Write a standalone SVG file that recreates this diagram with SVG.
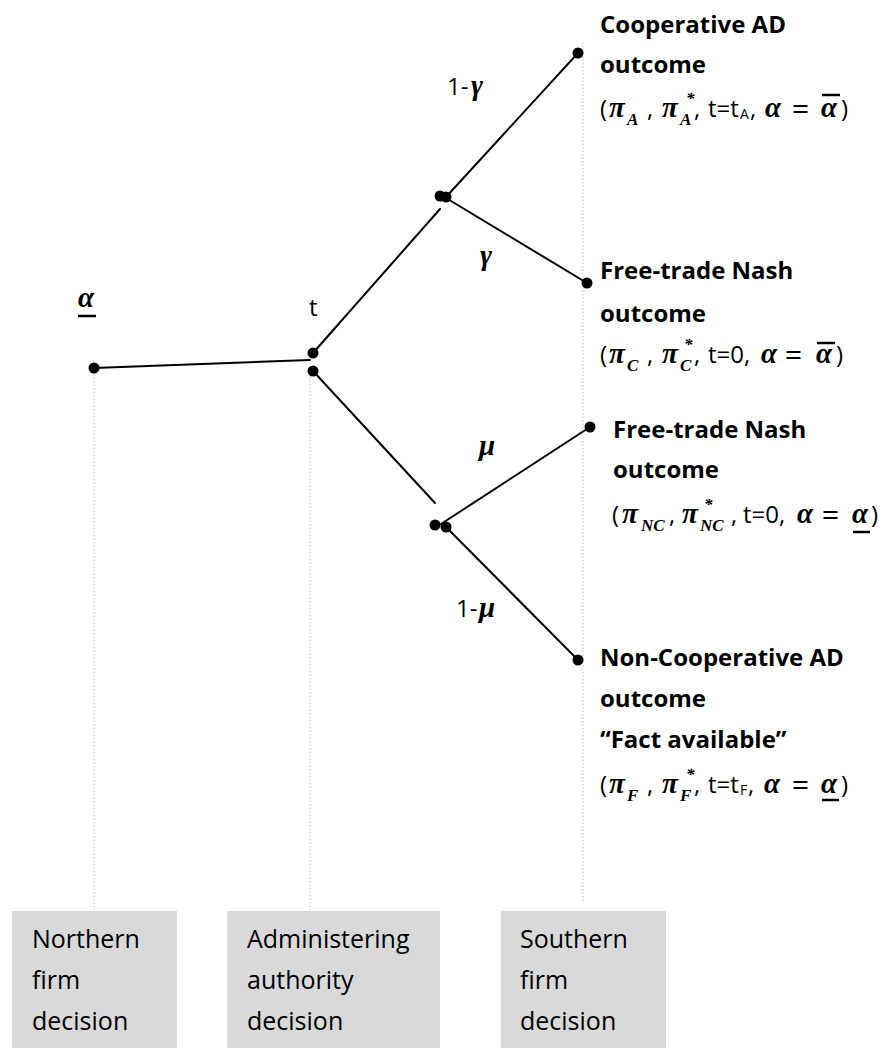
<svg xmlns="http://www.w3.org/2000/svg" width="882" height="1048" viewBox="0 0 882 1048">
<style>
.bg{fill:#ffffff}
.edge{stroke:#000;stroke-width:2;fill:none;stroke-linecap:round}
.guide{stroke:#c8c8c8;stroke-width:1.2;stroke-dasharray:1.5 2;fill:none}
.dot{fill:#000}
.title{font-family:"Open Sans","Liberation Sans",sans-serif;font-weight:bold;font-size:24px;fill:#000}
.sans{font-family:"Open Sans","Liberation Sans",sans-serif;font-size:24px;fill:#000}
.lbl{font-family:"Open Sans","Liberation Sans",sans-serif;font-size:24px;fill:#000}
.gr{font-family:"Liberation Serif","DejaVu Serif",serif;font-style:italic;font-weight:bold;font-size:29px;fill:#000}
.sub{font-family:"Liberation Serif","DejaVu Serif",serif;font-style:italic;font-weight:bold;font-size:17px;fill:#000}
.ssub{font-family:"Open Sans","Liberation Sans",sans-serif;font-size:14px;fill:#000}
.eq{font-family:"Liberation Serif","DejaVu Serif",serif;font-weight:bold;font-size:30px;fill:#000}
.bar{stroke:#000;stroke-width:2.5}
.box{fill:#d9d9d9}
.btxt{font-family:"Open Sans","Liberation Sans",sans-serif;font-size:25px;fill:#000}
</style>
<rect class="bg" x="0" y="0" width="882" height="1048"/>

<g id="guides">
<line class="guide" x1="94" y1="374" x2="94" y2="910"/>
<line class="guide" x1="310" y1="377" x2="310" y2="910"/>
<line class="guide" x1="583" y1="42" x2="583" y2="903"/>
</g>

<g id="connectors">
<line class="edge" x1="94" y1="368" x2="310" y2="360"/>
<line class="edge" x1="313" y1="353" x2="440" y2="209"/>
<line class="edge" x1="446" y1="197" x2="578" y2="53"/>
<line class="edge" x1="446" y1="198" x2="587" y2="283"/>
<line class="edge" x1="313" y1="371" x2="435" y2="503"/>
<line class="edge" x1="441" y1="524" x2="590" y2="427"/>
<line class="edge" x1="446" y1="527" x2="578" y2="660"/>
</g>

<g id="edge-labels">
<text class="lbl" x="447" y="95">1-</text>
<text class="gr" x="471" y="95">γ</text>
<text class="gr" x="480" y="265">γ</text>
<text class="gr" x="479" y="455">μ</text>
<text class="lbl" x="456" y="617">1-</text>
<text class="gr" x="479" y="617">μ</text>
</g>

<g id="node-northern">
<circle class="dot" cx="94" cy="368" r="5.5"/>
<text class="gr" x="78" y="307" font-size="27">α</text>
<line class="bar" x1="78" y1="316" x2="96" y2="316"/>
</g>

<g id="node-authority">
<circle class="dot" cx="313" cy="353" r="5.5"/>
<circle class="dot" cx="313" cy="371" r="5.5"/>
<text class="lbl" x="309" y="316">t</text>
</g>

<g id="node-chance-upper">
<circle class="dot" cx="440" cy="196" r="5.5"/>
<circle class="dot" cx="446" cy="197" r="5.5"/>
</g>

<g id="node-chance-lower">
<circle class="dot" cx="435" cy="525" r="5.5"/>
<circle class="dot" cx="446" cy="527" r="5.5"/>
</g>

<g id="outcome-cooperative">
<circle class="dot" cx="578" cy="53" r="5.5"/>
<text class="title" x="600" y="33">Cooperative AD</text>
<text class="title" x="600" y="73">outcome</text>
<text class="sans" x="600" y="117">(</text>
<text class="gr" x="609" y="117">π</text>
<text class="sub" x="627" y="125">A</text>
<text class="sans" x="647" y="117">,</text>
<text class="gr" x="662" y="117">π</text>
<text class="sub" x="686" y="104">*</text>
<text class="sub" x="680" y="125">A</text>
<text class="sans" x="694" y="117">,</text>
<text class="sans" x="708" y="117">t=t</text>
<text class="ssub" x="740" y="119">A</text>
<text class="sans" x="750" y="117">,</text>
<text class="gr" x="765" y="117">α</text>
<text class="eq" x="792" y="119">=</text>
<text class="gr" x="821" y="117">α</text>
<text class="sans" x="841" y="117">)</text>
<line class="bar" x1="822" y1="95" x2="840" y2="95"/>
</g>

<g id="outcome-free-trade-c">
<circle class="dot" cx="587" cy="283" r="5.5"/>
<text class="title" x="600" y="279">Free-trade Nash</text>
<text class="title" x="600" y="322">outcome</text>
<text class="sans" x="600" y="363">(</text>
<text class="gr" x="609" y="363">π</text>
<text class="sub" x="627" y="371">C</text>
<text class="sans" x="647" y="363">,</text>
<text class="gr" x="662" y="363">π</text>
<text class="sub" x="684" y="350">*</text>
<text class="sub" x="680" y="371">C</text>
<text class="sans" x="694" y="363">,</text>
<text class="sans" x="708" y="363">t=0,</text>
<text class="gr" x="761" y="363">α</text>
<text class="eq" x="785" y="365">=</text>
<text class="gr" x="816" y="363">α</text>
<text class="sans" x="836" y="363">)</text>
<line class="bar" x1="817" y1="343" x2="835" y2="343"/>
</g>

<g id="outcome-free-trade-nc">
<circle class="dot" cx="590" cy="427" r="5.5"/>
<text class="title" x="613" y="438">Free-trade Nash</text>
<text class="title" x="613" y="478">outcome</text>
<text class="sans" x="612" y="523">(</text>
<text class="gr" x="622" y="523">π</text>
<text class="sub" x="641" y="531">NC</text>
<text class="sans" x="669" y="523">,</text>
<text class="gr" x="682" y="523">π</text>
<text class="sub" x="704" y="510">*</text>
<text class="sub" x="700" y="531">NC</text>
<text class="sans" x="731" y="523">,</text>
<text class="sans" x="743" y="523">t=0,</text>
<text class="gr" x="797" y="523">α</text>
<text class="eq" x="822" y="525">=</text>
<text class="gr" x="852" y="523">α</text>
<text class="sans" x="871" y="523">)</text>
<line class="bar" x1="853" y1="532" x2="870" y2="532"/>
</g>

<g id="outcome-non-cooperative">
<circle class="dot" cx="578" cy="660" r="5.5"/>
<text class="title" x="600" y="666">Non-Cooperative AD</text>
<text class="title" x="600" y="707">outcome</text>
<text class="title" x="600" y="748">“Fact available”</text>
<text class="sans" x="600" y="793">(</text>
<text class="gr" x="609" y="793">π</text>
<text class="sub" x="627" y="801">F</text>
<text class="sans" x="647" y="793">,</text>
<text class="gr" x="662" y="793">π</text>
<text class="sub" x="686" y="780">*</text>
<text class="sub" x="680" y="801">F</text>
<text class="sans" x="694" y="793">,</text>
<text class="sans" x="708" y="793">t=t</text>
<text class="ssub" x="740" y="795">F</text>
<text class="sans" x="748" y="793">,</text>
<text class="gr" x="764" y="793">α</text>
<text class="eq" x="792" y="795">=</text>
<text class="gr" x="821" y="793">α</text>
<text class="sans" x="841" y="793">)</text>
<line class="bar" x1="822" y1="800" x2="839" y2="800"/>
</g>

<g id="box-northern">
<rect class="box" x="12" y="911" width="165" height="137"/>
<text class="btxt" x="32" y="948">Northern</text>
<text class="btxt" x="32" y="989">firm</text>
<text class="btxt" x="32" y="1030">decision</text>
</g>

<g id="box-authority">
<rect class="box" x="227" y="911" width="213" height="137"/>
<text class="btxt" x="247" y="948">Administering</text>
<text class="btxt" x="247" y="989">authority</text>
<text class="btxt" x="247" y="1030">decision</text>
</g>

<g id="box-southern">
<rect class="box" x="501" y="911" width="165" height="137"/>
<text class="btxt" x="520" y="948">Southern</text>
<text class="btxt" x="520" y="989">firm</text>
<text class="btxt" x="520" y="1030">decision</text>
</g>
</svg>
